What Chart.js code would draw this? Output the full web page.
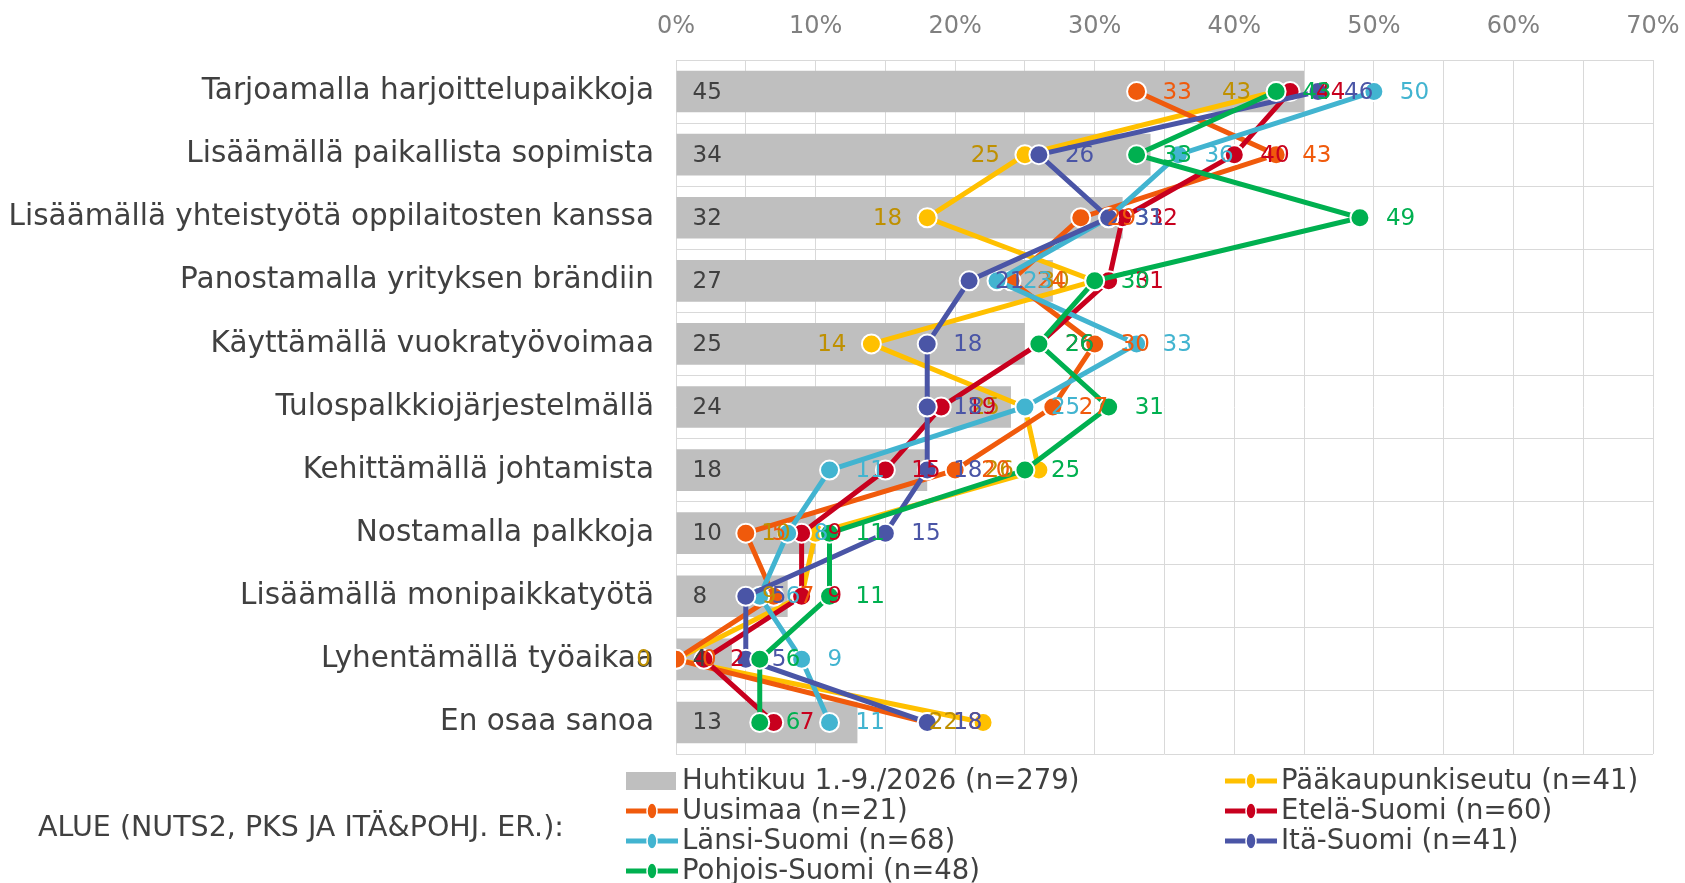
<!DOCTYPE html>
<html>
<head>
<meta charset="utf-8">
<script src="https://cdn.jsdelivr.net/npm/chart.js@4.4.1/dist/chart.umd.min.js"></script>
<style>
  html, body { margin: 0; padding: 0; background: #fff; overflow: hidden; }
  #wrap { width: 1685px; height: 883px; position: relative; }
</style>
</head>
<body>
<div id="wrap"><canvas id="regionChart"></canvas></div>
<script>
// categories (top to bottom)
const categories = [
    "Tarjoamalla harjoittelupaikkoja",
    "Lisäämällä paikallista sopimista",
    "Lisäämällä yhteistyötä oppilaitosten kanssa",
    "Panostamalla yrityksen brändiin",
    "Käyttämällä vuokratyövoimaa",
    "Tulospalkkiojärjestelmällä",
    "Kehittämällä johtamista",
    "Nostamalla palkkoja",
    "Lisäämällä monipaikkatyötä",
    "Lyhentämällä työaikaa",
    "En osaa sanoa"
];

const totalLabel = "Huhtikuu 1.-9./2026 (n=279)";
const totalValues = [45, 34, 32, 27, 25, 24, 18, 10, 8, 4, 13];

const regionLabels = [
    "Pääkaupunkiseutu (n=41)",
    "Uusimaa (n=21)",
    "Etelä-Suomi (n=60)",
    "Länsi-Suomi (n=68)",
    "Itä-Suomi (n=41)",
    "Pohjois-Suomi (n=48)"
];
const pksValues     = [43, 25, 18, 30, 14, 25, 26, 10, 9, 0, 22];
const uusimaaValues = [33, 43, 29, 24, 30, 27, 20, 5, 7, 0, 18];
const etelaValues   = [44, 40, 32, 31, 26, 19, 15, 9, 9, 2, 7];
const lansiValues   = [50, 36, 31, 23, 33, 25, 11, 8, 6, 9, 11];
const itaValues     = [46, 26, 31, 21, 18, 18, 18, 15, 5, 5, 18];
const pohjoisValues = [43, 33, 49, 30, 26, 31, 25, 11, 11, 6, 6];

const xTickValues = [0, 10, 20, 30, 40, 50, 60, 70];
const legendTitle = "ALUE (NUTS2, PKS JA ITÄ&POHJ. ER.):";

const FONT = '"DejaVu Sans", Verdana, sans-serif';
const lineColors  = ["#FFC000", "#F05A0C", "#C8001E", "#42B4D0", "#4A55A6", "#00B050"];
const labelColors = ["#BF9000", "#F05A0C", "#C8001E", "#42B4D0", "#4A55A6", "#00B050"];
const regionValues = [pksValues, uusimaaValues, etelaValues, lansiValues, itaValues, pohjoisValues];

function lineDataset(i) {
    return {
        type: "line",
        label: regionLabels[i],
        data: regionValues[i],
        indexAxis: "y",
        borderColor: lineColors[i],
        backgroundColor: lineColors[i],
        borderWidth: 5,
        tension: 0,
        fill: false,
        pointRadius: 9.5,
        pointHoverRadius: 9.5,
        pointBackgroundColor: lineColors[i],
        pointBorderColor: "#ffffff",
        pointBorderWidth: 2,
        order: 6 - i,
        labelColor: labelColors[i],
        labelLeft: i === 0
    };
}

// data labels next to points and inside bars
const valueLabels = {
    id: "valueLabels",
    afterDatasetsDraw(chart) {
        const ctx = chart.ctx;
        ctx.save();
        ctx.textBaseline = "middle";
        chart.data.datasets.forEach((ds, i) => {
            const meta = chart.getDatasetMeta(i);
            meta.data.forEach((el, j) => {
                const v = ds.data[j];
                ctx.font = "23px " + FONT;
                if (ds.type === "bar") {
                    ctx.fillStyle = "#404040";
                    ctx.textAlign = "left";
                    ctx.fillText(v, el.base + 16, el.y + 1);
                } else {
                    ctx.fillStyle = ds.labelColor;
                    if (ds.labelLeft) {
                        ctx.textAlign = "right";
                        ctx.fillText(v, el.x - 25, el.y + 1);
                    } else {
                        ctx.textAlign = "left";
                        ctx.fillText(v, el.x + 26, el.y + 1);
                    }
                }
            });
        });
        ctx.restore();
    }
};

// two-column legend like the original
const sideLegend = {
    id: "sideLegend",
    afterDraw(chart) {
        const ctx = chart.ctx;
        ctx.save();
        ctx.textBaseline = "middle";
        ctx.font = "28.5px " + FONT;
        ctx.fillStyle = "#404040";
        ctx.textAlign = "left";
        ctx.fillText(legendTitle, 38, 829);

        const colX = [626, 1225];
        chart.data.datasets.forEach((ds, i) => {
            const col = i % 2;
            const row = Math.floor(i / 2);
            const x = colX[col];
            const y = 781 + row * 30;
            if (ds.type === "bar") {
                ctx.fillStyle = ds.backgroundColor;
                ctx.fillRect(x, y - 9, 50, 18);
            } else {
                ctx.strokeStyle = ds.borderColor;
                ctx.lineWidth = 5;
                ctx.beginPath();
                ctx.moveTo(x, y);
                ctx.lineTo(x + 52, y);
                ctx.stroke();
                ctx.fillStyle = ds.borderColor;
                ctx.strokeStyle = "#fff";
                ctx.lineWidth = 1.5;
                ctx.beginPath();
                ctx.ellipse(x + 26, y, 5, 8, 0, 0, Math.PI * 2);
                ctx.fill();
                ctx.stroke();
            }
            ctx.fillStyle = "#404040";
            ctx.font = "27.5px " + FONT;
            ctx.fillText(ds.label, x + 56, y + 1);
        });
        ctx.restore();
    }
};

const ctx = document.getElementById("regionChart").getContext("2d");
new Chart(ctx, {
    type: "bar",
    data: {
        labels: categories,
        datasets: [
            {
                type: "bar",
                label: totalLabel,
                data: totalValues,
                backgroundColor: "#BFBFBF",
                borderWidth: 0,
                barPercentage: 0.66,
                categoryPercentage: 1,
                order: 10
            },
            lineDataset(0),
            lineDataset(1),
            lineDataset(2),
            lineDataset(3),
            lineDataset(4),
            lineDataset(5)
        ]
    },
    options: {
        indexAxis: "y",
        responsive: true,
        maintainAspectRatio: false,
        animation: false,
        layout: { padding: { left: 0, right: 32, top: 0, bottom: 129 } },
        plugins: {
            legend: { display: false },
            tooltip: { enabled: false }
        },
        scales: {
            x: {
                position: "top",
                min: 0,
                max: 70,
                grid: { color: "#D9D9D9", drawTicks: false },
                border: { display: true, color: "#D9D9D9" },
                ticks: {
                    stepSize: 5,
                    autoSkip: false,
                    maxRotation: 0,
                    color: "#808080",
                    font: { family: FONT, size: 24 },
                    padding: 19,
                    callback: v => xTickValues.includes(v) ? v + "%" : ""
                },
                afterFit: s => {
                    s.height = 60;
                    s.paddingLeft = 0;
                    s.paddingRight = 0;
                }
            },
            y: {
                grid: { color: "#D9D9D9", drawTicks: false, offset: true },
                border: { display: false },
                ticks: {
                    autoSkip: false,
                    color: "#404040",
                    font: { family: FONT, size: 29.5 },
                    padding: 22
                },
                afterFit: s => { s.width = 676; }
            }
        }
    },
    plugins: [valueLabels, sideLegend]
});
</script>
</body>
</html>
